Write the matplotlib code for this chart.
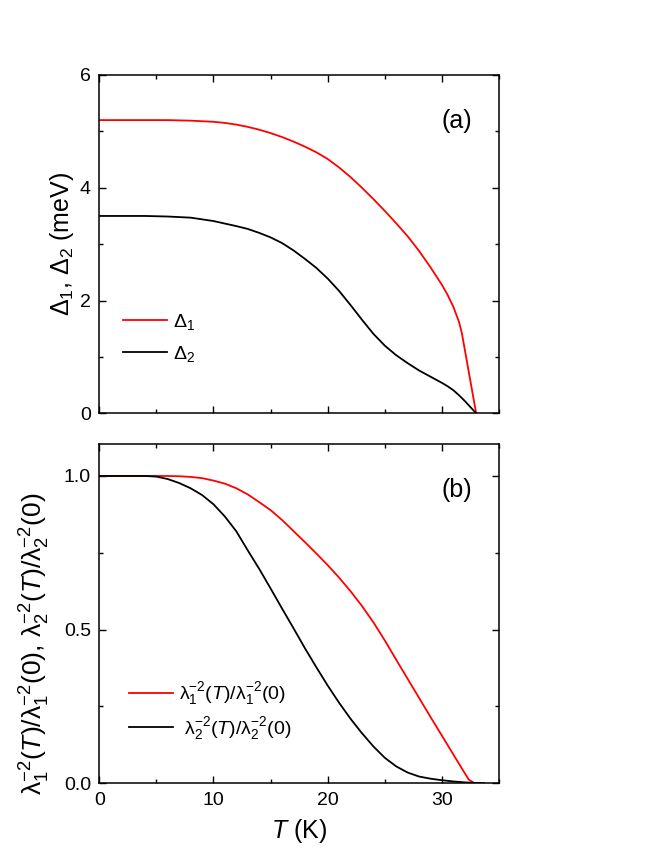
import matplotlib
matplotlib.use('Agg')
import matplotlib.pyplot as plt
from matplotlib.ticker import MultipleLocator, FormatStrFormatter

plt.rcParams['font.family'] = ['Liberation Sans', 'DejaVu Sans']
plt.rcParams['mathtext.fontset'] = 'custom'
plt.rcParams['mathtext.rm'] = 'Liberation Sans'
plt.rcParams['mathtext.it'] = 'Liberation Sans:italic'
plt.rcParams['mathtext.bf'] = 'Liberation Sans:bold'

# panel (a): gaps vs T
t_gap1 = [0, 4, 6, 8, 10, 11, 12, 13, 14, 15, 16, 17, 18, 19, 20, 21, 22, 23, 24, 25, 26,
          27, 28, 29, 30, 30.5, 31, 31.5, 31.75, 33.0]
gap1 = [5.20, 5.20, 5.20, 5.19, 5.17, 5.15, 5.12, 5.08, 5.03, 4.97, 4.90, 4.82, 4.73, 4.63,
        4.51, 4.36, 4.19, 4.00, 3.80, 3.59, 3.37, 3.14, 2.88, 2.59, 2.28, 2.10, 1.89, 1.62,
        1.42, 0.0]

t_gap2 = [0, 4, 6, 8, 10, 12, 13, 14, 15, 16, 17, 18, 19, 20, 21, 22, 23, 24, 25, 26, 27,
          28, 29, 30, 30.5, 31, 31.5, 32, 32.5, 33.0]
gap2 = [3.50, 3.50, 3.49, 3.47, 3.41, 3.32, 3.27, 3.20, 3.12, 3.02, 2.89, 2.74, 2.58, 2.39,
        2.17, 1.92, 1.66, 1.41, 1.20, 1.03, 0.89, 0.76, 0.65, 0.54, 0.48, 0.41, 0.32, 0.22,
        0.11, 0.0]

# panel (b): normalised superfluid density
t_rho1 = [0, 6, 7, 8, 9, 10, 11, 12, 13, 14, 15, 16, 17, 18, 19, 20, 21, 22, 23, 24, 25,
          26, 27, 28, 29, 30, 31, 32, 32.35, 32.85, 33.7]
rho1 = [1.0, 1.0, 0.999, 0.997, 0.993, 0.985, 0.975, 0.960, 0.940, 0.915, 0.889, 0.857,
        0.821, 0.785, 0.748, 0.710, 0.669, 0.625, 0.577, 0.524, 0.465, 0.402, 0.340, 0.278,
        0.216, 0.155, 0.094, 0.033, 0.012, 0.0, 0.0]

t_rho2 = [0, 4, 5, 6, 7, 8, 9, 10, 11, 12, 13, 14, 15, 16, 17, 18, 19, 20, 21, 22, 23, 24,
          25, 26, 27, 28, 29, 30, 31, 32, 33, 33.7]
rho2 = [1.0, 1.0, 0.998, 0.990, 0.977, 0.960, 0.938, 0.908, 0.868, 0.820, 0.758, 0.698,
        0.634, 0.569, 0.505, 0.440, 0.378, 0.318, 0.262, 0.210, 0.163, 0.120, 0.083, 0.055,
        0.035, 0.022, 0.015, 0.010, 0.006, 0.003, 0.001, 0.0]

red = '#ff0000'
blk = '#000000'
lw = 1.3

fig = plt.figure(figsize=(6.64, 8.60), dpi=100)
ax1 = fig.add_axes([0.1495, 0.5194, 0.602, 0.3934])
ax2 = fig.add_axes([0.1495, 0.0892, 0.602, 0.3945])

for ax in (ax1, ax2):
    ax.tick_params(which='both', direction='in', top=True, right=True, labelsize=14, pad=6,
                   width=1.0)
    ax.tick_params(which='major', length=5)
    ax.tick_params(which='minor', length=3)
    for s in ax.spines.values():
        s.set_linewidth(1.1)
    ax.set_xlim(0, 35)
    ax.xaxis.set_major_locator(MultipleLocator(10))
    ax.xaxis.set_minor_locator(MultipleLocator(5))

# (a)
ax1.plot(t_gap1, gap1, color=red, lw=lw, label='Δ$_1$')
ax1.plot(t_gap2, gap2, color=blk, lw=lw, label='Δ$_2$')
ax1.set_ylim(0, 6)
ax1.yaxis.set_major_locator(MultipleLocator(2))
ax1.yaxis.set_minor_locator(MultipleLocator(1))
ax1.tick_params(labelbottom=False)
ax1.set_ylabel('Δ$_1$, Δ$_2$ (meV)', fontsize=18)
ax1.yaxis.set_label_coords(-0.057, 0.5)
ax1.text(0.895, 0.865, '(a)', transform=ax1.transAxes, fontsize=18, ha='center', va='center')
ax1.legend(loc='lower left', bbox_to_anchor=(0.015, 0.095), frameon=False, fontsize=14,
           handlelength=2.3, handletextpad=0.3, labelspacing=0.6)

# (b)
ax2.plot(t_rho1, rho1, color=red, lw=lw,
         label='λ$_1^{-2}$($T$)/λ$_1^{-2}$(0)')
ax2.plot(t_rho2, rho2, color=blk, lw=lw,
         label=' λ$_2^{-2}$($T$)/λ$_2^{-2}$(0)')
ax2.set_ylim(0, 1.104)
ax2.yaxis.set_major_locator(MultipleLocator(0.5))
ax2.yaxis.set_minor_locator(MultipleLocator(0.25))
ax2.yaxis.set_major_formatter(FormatStrFormatter('%.1f'))
ax2.set_xlabel('$T$ (K)', fontsize=18, labelpad=6)
ax2.set_ylabel('λ$_1^{-2}$($T$)/λ$_1^{-2}$(0), λ$_2^{-2}$($T$)/λ$_2^{-2}$(0)', fontsize=19)
ax2.yaxis.set_label_coords(-0.118, 0.41)
ax2.text(0.895, 0.865, '(b)', transform=ax2.transAxes, fontsize=18, ha='center', va='center')
ax2.legend(loc='lower left', bbox_to_anchor=(0.03, 0.07), frameon=False, fontsize=14,
           handlelength=2.3, handletextpad=0.3, labelspacing=0.4)

fig.savefig('out.png', dpi=100, facecolor='white')
